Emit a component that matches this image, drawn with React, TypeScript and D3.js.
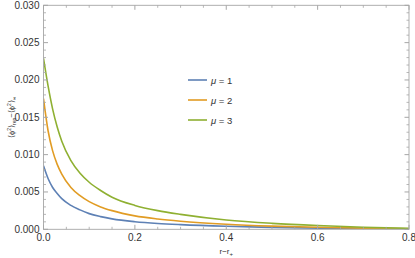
import React from 'react';
import * as d3 from 'd3';

const rValues = [0, 0.01, 0.02, 0.03, 0.04, 0.06, 0.08, 0.1, 0.125, 0.15, 0.2, 0.25, 0.3, 0.4, 0.5, 0.6, 0.7, 0.8];
const mu1 = [0.0085, 0.0068, 0.0056, 0.0048, 0.0041, 0.0032, 0.0026, 0.0021, 0.0017, 0.0014, 0.00102, 0.00078, 0.00062, 0.0004, 0.00026, 0.00016, 0.0001, 0.00005];
const mu2 = [0.0175, 0.0132, 0.0105, 0.0087, 0.0074, 0.0056, 0.0045, 0.0037, 0.003, 0.0025, 0.0018, 0.00138, 0.00108, 0.00068, 0.00043, 0.00027, 0.00016, 0.00008];
const mu3 = [0.0229, 0.0192, 0.0161, 0.0137, 0.0118, 0.0092, 0.0075, 0.0063, 0.0052, 0.0043, 0.0032, 0.0025, 0.002, 0.00125, 0.0008, 0.0005, 0.00028, 0.00012];
const seriesNames = ['1', '2', '3'];
const seriesColors = ['#5E81B5', '#E19C24', '#8FB032'];
const xTicks = [0, 0.2, 0.4, 0.6, 0.8];
const yTicks = [0, 0.005, 0.01, 0.015, 0.02, 0.025, 0.03];

const W = 415;
const H = 258;
const margin = { top: 5.3, right: 6, bottom: 28.7, left: 43.5 };

export default function App() {
  const x = d3.scaleLinear().domain([0, 0.8]).range([margin.left, W - margin.right]);
  const y = d3.scaleLinear().domain([0, 0.03]).range([H - margin.bottom, margin.top]);
  const series = [mu1, mu2, mu3];
  const line = d3
    .line<number>()
    .x((_, i) => x(rValues[i]))
    .y((d) => y(d))
    .curve(d3.curveMonotoneX);

  const x0 = x(0), x1 = x(0.8), y0 = y(0), y1 = y(0.03);
  const xMinor = d3.range(0, 0.8001, 0.05).filter((v) => !xTicks.some((t) => Math.abs(t - v) < 1e-6));
  const yMinor = d3.range(0, 0.03001, 0.001).filter((v) => !yTicks.some((t) => Math.abs(t - v) < 1e-6));
  const frame = '#a6a6a6';
  const text = '#333';
  const font = 'Liberation Sans, Arial, sans-serif';

  return (
    <svg width={W} height={H} style={{ position: 'absolute', left: 0, top: 0 }} fontFamily={font}>
      <rect width={W} height={H} fill="white" />
      <defs>
        <clipPath id="plot">
          <rect x={x0} y={y1 - 2} width={x1 - x0} height={y0 - y1 + 2} />
        </clipPath>
      </defs>
      <g clipPath="url(#plot)">
        {series.map((s, i) => (
          <path key={i} d={line(s) || ''} fill="none" stroke={seriesColors[i]} strokeWidth={1.6} />
        ))}
      </g>
      <rect x={x0} y={y1} width={x1 - x0} height={y0 - y1} fill="none" stroke={frame} strokeWidth={0.9} />
      {xTicks.map((t) => (
        <g key={'xt' + t}>
          <line x1={x(t)} x2={x(t)} y1={y0} y2={y0 - 4.5} stroke={frame} />
          <line x1={x(t)} x2={x(t)} y1={y1} y2={y1 + 4.5} stroke={frame} />
          <text x={x(t)} y={y0 + 12} fontSize={10} textAnchor="middle" fill={text}>
            {t.toFixed(1)}
          </text>
        </g>
      ))}
      {xMinor.map((t) => (
        <g key={'xm' + t}>
          <line x1={x(t)} x2={x(t)} y1={y0} y2={y0 - 2.5} stroke={frame} strokeWidth={0.8} />
          <line x1={x(t)} x2={x(t)} y1={y1} y2={y1 + 2.5} stroke={frame} strokeWidth={0.8} />
        </g>
      ))}
      {yTicks.map((t) => (
        <g key={'yt' + t}>
          <line x1={x0} x2={x0 + 4.5} y1={y(t)} y2={y(t)} stroke={frame} />
          <line x1={x1} x2={x1 - 4.5} y1={y(t)} y2={y(t)} stroke={frame} />
          <text x={x0 - 4} y={y(t) + 3.5} fontSize={10} textAnchor="end" fill={text}>
            {t.toFixed(3)}
          </text>
        </g>
      ))}
      {yMinor.map((t) => (
        <g key={'ym' + t}>
          <line x1={x0} x2={x0 + 2.5} y1={y(t)} y2={y(t)} stroke={frame} strokeWidth={0.8} />
          <line x1={x1} x2={x1 - 2.5} y1={y(t)} y2={y(t)} stroke={frame} strokeWidth={0.8} />
        </g>
      ))}
      <text x={(x0 + x1) / 2} y={H - 4} fontSize={8} textAnchor="middle" fill={text}>
        r−r<tspan fontSize={6} dy={2}>+</tspan>
      </text>
      <text transform={`translate(14, ${(y0 + y1) / 2}) rotate(-90)`} fontSize={7.5} textAnchor="middle" fill={text}>
        ⟨ϕ<tspan fontSize={5} dy={-3}>2</tspan>
        <tspan dy={3}>⟩</tspan>
        <tspan fontSize={5} dy={2}>ren</tspan>
        <tspan dy={-2}>−⟨ϕ</tspan>
        <tspan fontSize={5} dy={-3}>2</tspan>
        <tspan dy={3}>⟩</tspan>
        <tspan fontSize={5} dy={2}>∞</tspan>
      </text>
      {seriesNames.map((n, i) => (
        <g key={'lg' + n} transform={`translate(188, ${80 + i * 20})`}>
          <line x1={0} x2={19} y1={0} y2={0} stroke={seriesColors[i]} strokeWidth={1.6} />
          <text x={23} y={3.5} fontSize={9.5} fill={text}>
            <tspan fontStyle="italic">μ</tspan> = {n}
          </text>
        </g>
      ))}
    </svg>
  );
}
